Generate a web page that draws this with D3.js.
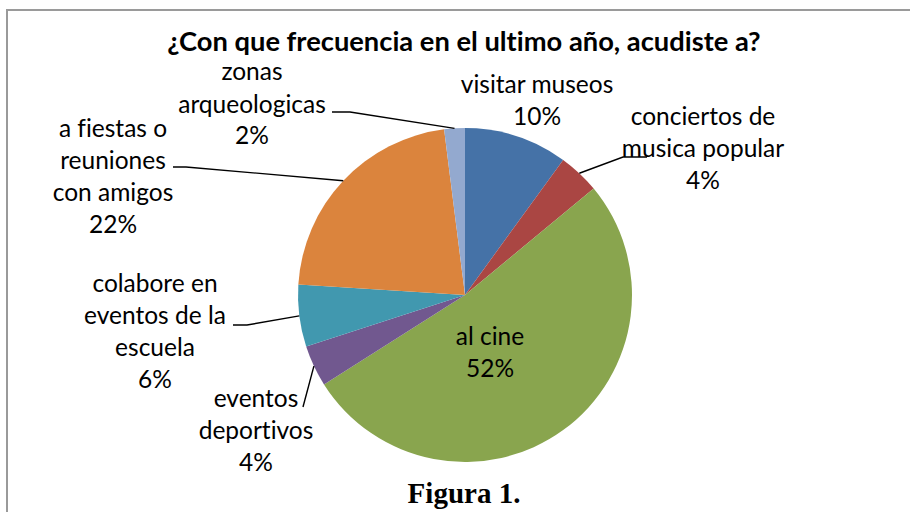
<!DOCTYPE html>
<html lang="es">
  <head>
    <meta charset="utf-8">
    <title>Frecuencia</title>
    <style>
      body { margin: 0; background: #fff; }
      svg { display: block; }
      text { font-variant-ligatures: none; }
      .lbl { font-family: Lato, "Open Sans", sans-serif; font-size: 24.5px; fill: #000; }
      .title { font-family: Lato, sans-serif; font-size: 27.3px; font-weight: bold; fill: #000; }
      .fig { font-family: "Liberation Serif", "Times New Roman", serif; font-size: 29px; font-weight: bold; fill: #000; }
    </style>
  </head>
  <body>
    <svg id="chart" width="910" height="512"></svg>
    <script src="https://d3js.org/d3.v7.min.js"></script>
    <script>
      // data
      const categories = ["visitar museos", "conciertos de musica popular", "al cine", "eventos deportivos",
                          "colabore en eventos de la escuela", "a fiestas o reuniones con amigos", "zonas arqueologicas"];
      const values = [10, 4, 52, 4, 6, 22, 2];
      const labelLines = [
        ["visitar museos"],
        ["conciertos de", "musica popular"],
        ["al cine"],
        ["eventos", "deportivos"],
        ["colabore en", "eventos de la", "escuela"],
        ["a fiestas o", "reuniones", "con amigos"],
        ["zonas", "arqueologicas"]
      ];
      const colors = ["#4572A7", "#AA4643", "#89A54E", "#71588F", "#4198AF", "#DB843D", "#93A9CF"];

      const svg = d3.select("#chart");
      const cx = 465, cy = 295, r = 167;

      // frame
      svg.append("path").attr("d", "M7,520 V10 H915")
        .attr("fill", "none").attr("stroke", "#9a9a9a").attr("stroke-width", 2);

      svg.append("text").attr("class", "title").attr("x", 464).attr("y", 51)
        .attr("text-anchor", "middle").text("¿Con que frecuencia en el ultimo año, acudiste a?");

      const pie = d3.pie().value(d => d).sort(null);
      const arcs = pie(values);
      const arc = d3.arc().innerRadius(0).outerRadius(r);

      const g = svg.append("g").attr("transform", `translate(${cx},${cy})`);
      g.selectAll("path").data(arcs).enter().append("path")
        .attr("d", arc).attr("fill", (d, i) => colors[i]);

      // label layout (first baseline, center x) and leader elbow, relative to page
      const layout = [
        {x: 537, y: 93, elbow: null},
        {x: 703, y: 125, elbow: [[647, 157], [623, 157]]},
        {x: 490, y: 345, elbow: null},
        {x: 256, y: 407, elbow: [[303, 407]]},
        {x: 155, y: 292, elbow: [[233, 325], [247, 325]]},
        {x: 113, y: 137, elbow: [[173, 167], [186, 167]]},
        {x: 252, y: 80, elbow: [[332, 112], [350, 112]]}
      ];
      const lineH = 32;

      arcs.forEach((a, i) => {
        const L = layout[i];
        const t = svg.append("text").attr("class", "lbl").attr("text-anchor", "middle");
        const lines = labelLines[i].concat([values[i] + "%"]);
        lines.forEach((s, k) => {
          t.append("tspan").attr("x", L.x).attr("y", L.y + k * (k === 1 && i === 6 ? 33 : lineH)).text(s);
        });
        if (L.elbow) {
          const mid = (a.startAngle + a.endAngle) / 2;
          const end = [cx + r * Math.sin(mid), cy - r * Math.cos(mid)];
          svg.append("path").attr("d", d3.line()(L.elbow.concat([end])))
            .attr("fill", "none").attr("stroke", "#000").attr("stroke-width", 1.4);
        }
      });

      svg.append("text").attr("class", "fig").attr("x", 464).attr("y", 503)
        .attr("text-anchor", "middle").text("Figura 1.");
    </script>
  </body>
</html>
